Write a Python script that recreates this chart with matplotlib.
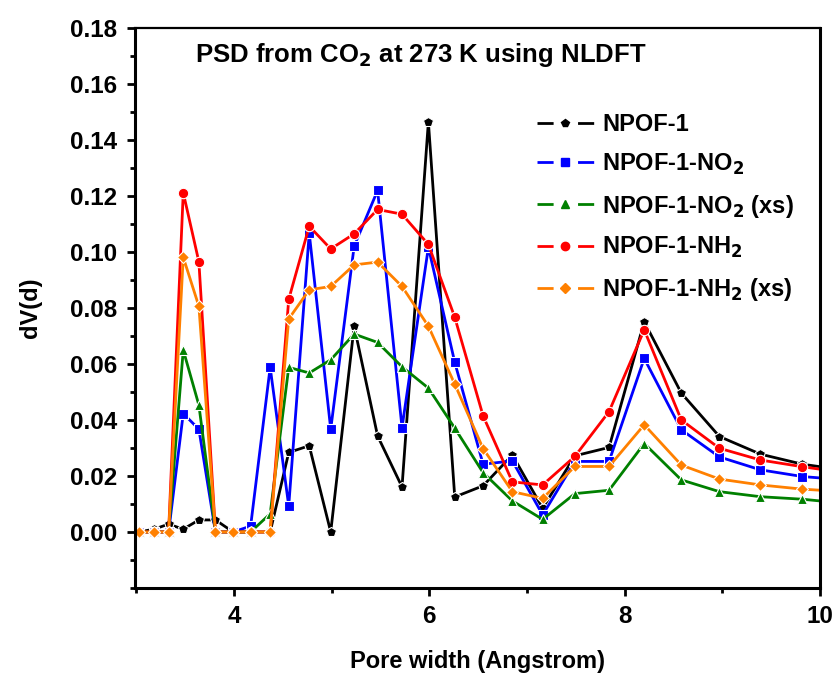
import matplotlib
matplotlib.use("Agg")
import matplotlib.pyplot as plt
from matplotlib.ticker import MultipleLocator
from matplotlib.lines import Line2D

plt.rcParams['font.family'] = ['Liberation Sans', 'DejaVu Sans']
plt.rcParams['font.weight'] = 'bold'
plt.rcParams['mathtext.default'] = 'bf'

pore_width = [3.03, 3.18, 3.33, 3.48, 3.64, 3.81, 3.99, 4.17, 4.37, 4.56, 4.77, 4.99,
              5.23, 5.47, 5.72, 5.99, 6.26, 6.55, 6.85, 7.16, 7.49, 7.84, 8.20,
              8.58, 8.97, 9.39, 9.82, 10.29]

npof1 = [0.0, 0.001, 0.0028, 0.001, 0.0043, 0.0043, 0.0, 0.0, 0.0, 0.0284, 0.0308, 0.0,
         0.0735, 0.0343, 0.0161, 0.1465, 0.0125, 0.0165, 0.0275, 0.0085, 0.0272, 0.0302, 0.0751,
         0.0496, 0.0341, 0.0278, 0.0242, 0.0219]
npof1_no2 = [0.0, 0.0, 0.0, 0.0423, 0.0367, 0.0, 0.0, 0.0021, 0.0588, 0.0093, 0.1067, 0.0367,
             0.1021, 0.1220, 0.0373, 0.1017, 0.0606, 0.0242, 0.0254, 0.0061, 0.0252, 0.0252, 0.0620,
             0.0365, 0.0268, 0.0222, 0.0198, 0.0185]
npof1_no2_xs = [0.0, 0.0, 0.0, 0.0650, 0.0453, 0.0, 0.0, 0.0, 0.0065, 0.0588, 0.0568, 0.0615,
                0.0707, 0.0677, 0.0590, 0.0514, 0.0371, 0.0212, 0.0111, 0.0045, 0.0137, 0.0149, 0.0316,
                0.0186, 0.0144, 0.0126, 0.0117, 0.0101]
npof1_nh2 = [0.0, 0.0, 0.0, 0.1212, 0.0965, 0.0, 0.0, 0.0, 0.0, 0.0831, 0.1092, 0.1011,
             0.1065, 0.1152, 0.1135, 0.1027, 0.0767, 0.0415, 0.0179, 0.0168, 0.0270, 0.0430, 0.0722,
             0.0400, 0.0299, 0.0257, 0.0233, 0.0210]
npof1_nh2_xs = [0.0, 0.0, 0.0, 0.0981, 0.0806, 0.0, 0.0, 0.0, 0.0, 0.0761, 0.0865, 0.0877,
                0.0954, 0.0964, 0.0877, 0.0735, 0.0528, 0.0298, 0.0144, 0.0120, 0.0234, 0.0234, 0.0383,
                0.0239, 0.0189, 0.0168, 0.0153, 0.0143]

labels = ['NPOF-1', 'NPOF-1-NO$_2$', 'NPOF-1-NO$_2$ (xs)', 'NPOF-1-NH$_2$', 'NPOF-1-NH$_2$ (xs)']
colors = ['black', '#0000ff', '#008000', '#ff0000', '#ff8000']
markers = ['p', 's', '^', 'o', 'D']
data = [npof1, npof1_no2, npof1_no2_xs, npof1_nh2, npof1_nh2_xs]

fig = plt.figure(figsize=(8.37, 6.77), dpi=100)
ax = fig.add_axes([0.1613, 0.1315, 0.8184, 0.8271])

for vals, lab, col, mk in zip(data, labels, colors, markers):
    ms = 7.5 if mk != 'D' else 6.5
    ax.plot(pore_width, vals, color=col, lw=2.0, marker=mk, ms=ms,
            mec='white', mew=0.8, label=lab, clip_on=True)

ax.set_xlim(2.986, 10)
ax.set_ylim(-0.02, 0.18)
ax.xaxis.set_major_locator(MultipleLocator(2))
ax.xaxis.set_minor_locator(MultipleLocator(1))
ax.set_yticks([0.0, 0.02, 0.04, 0.06, 0.08, 0.10, 0.12, 0.14, 0.16, 0.18])
ax.yaxis.set_minor_locator(MultipleLocator(0.01))
ax.tick_params(axis='both', which='major', direction='out', length=6, width=2,
               labelsize=17.5)
ax.tick_params(axis='x', which='major', pad=6)
ax.tick_params(axis='y', which='major', pad=7)
ax.tick_params(axis='both', which='minor', direction='out', length=3.5, width=2)
ax.tick_params(top=False, right=False, which='both')
for lbl in ax.get_xticklabels() + ax.get_yticklabels():
    lbl.set_fontweight('bold')

for s in ['left', 'bottom', 'right']:
    ax.spines[s].set_linewidth(2.2)
ax.spines['top'].set_linewidth(1.6)

ax.set_xlabel('Pore width (Angstrom)', fontsize=17, fontweight='bold', labelpad=16)
ax.set_ylabel('dV(d)', fontsize=17, fontweight='bold', labelpad=20)

ax.text(0.0876, 0.952, 'PSD from CO$_2$ at 273 K using NLDFT', transform=ax.transAxes,
        fontsize=18.5, fontweight='bold', va='center', ha='left')

handles = [Line2D([], [], color=c, lw=2.0, ls=(0, (5.8, 8.8)), dash_capstyle='butt',
                  marker=m, ms=(6 if m != 'D' else 5.5), mfc=c, mec=c)
           for c, m in zip(colors, markers)]

leg = ax.legend(handles, labels, loc='upper left', bbox_to_anchor=(0.587, 0.848),
                frameon=False, fontsize=17, handlelength=2.4, handletextpad=0.35,
                labelspacing=0.66, borderpad=0, borderaxespad=0)
for t in leg.get_texts():
    t.set_fontweight('bold')

fig.savefig('out.png', dpi=100)
